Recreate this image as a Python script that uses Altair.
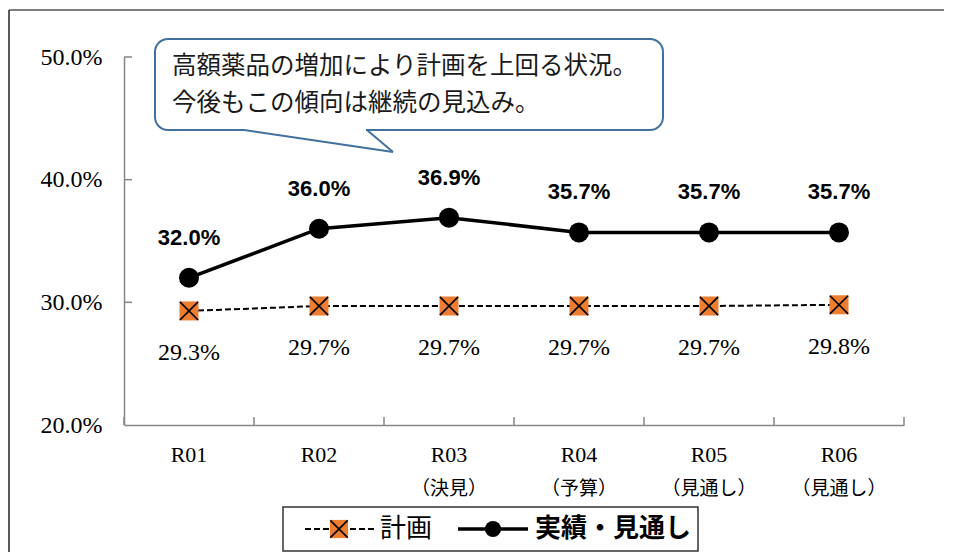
import altair as alt
import pandas as pd

# ---------------- data ----------------
categories = ["R01", "R02", "R03", "R04", "R05", "R06"]
sublabels = ["", "", "（決見）", "（予算）", "（見通し）", "（見通し）"]
plan = [29.3, 29.7, 29.7, 29.7, 29.7, 29.8]
actual = [32.0, 36.0, 36.9, 35.7, 35.7, 35.7]
y_ticks = [20, 30, 40, 50]
callout_lines = ["高額薬品の増加により計画を上回る状況。", "今後もこの傾向は継続の見込み。"]
legend_labels = ["計画", "実績・見通し"]

W, H = 780, 368
ORANGE = "#ED7D31"
AXIS_GRAY = "#868686"
CALLOUT_BLUE = "#41719C"
SERIF = "Liberation Serif"
SANS = "Liberation Sans"
CJK = "Noto Sans CJK JP"
X_PATH = "M-1,-1L1,1M1,-1L-1,1"

df = pd.DataFrame({
    "pos": [i + 0.5 for i in range(len(categories))],
    "cat": categories,
    "sub": sublabels,
    "plan": plan,
    "actual": actual,
})
df["plan_lbl"] = [f"{v:.1f}%" for v in plan]
df["actual_lbl"] = [f"{v:.1f}%" for v in actual]

bounds = pd.DataFrame({"pos": list(range(len(categories) + 1))})
yt = pd.DataFrame({"val": y_ticks[1:]})
one = alt.Data(values=[{"a": 1}])

xscale = alt.Scale(domain=[0, len(categories)], nice=False, zero=False)
yscale = alt.Scale(domain=[20, 50], nice=False, zero=False)
xaxis = alt.Axis(labels=False, ticks=False, grid=False, title=None,
                 domainColor=AXIS_GRAY, domainWidth=1.5)
yaxis = alt.Axis(values=y_ticks, labelExpr="format(datum.value, '.1f') + '%'",
                 ticks=False, grid=False, title=None, labelFont=SERIF,
                 labelFontSize=24, labelColor="black", labelPadding=22,
                 domainColor=AXIS_GRAY, domainWidth=1.5)


def X(field="pos"):
    return alt.X(f"{field}:Q", scale=xscale, axis=xaxis)


def Y(field):
    return alt.Y(f"{field}:Q", scale=yscale, axis=yaxis)


layers = []

# outer frame (top and left edges visible in the reference)
layers.append(alt.Chart(one).mark_rule(color="#7f7f7f", strokeWidth=2).encode(
    x=alt.value(-115), x2=alt.value(W + 40), y=alt.value(-47), y2=alt.value(-47)))
layers.append(alt.Chart(one).mark_rule(color="#222222", strokeWidth=1.5).encode(
    x=alt.value(-115), x2=alt.value(-115), y=alt.value(-47), y2=alt.value(H + 140)))

# inward tick marks
layers.append(alt.Chart(bounds).mark_rule(color=AXIS_GRAY, strokeWidth=1.5).encode(
    x=X(), y=alt.value(H), y2=alt.value(H - 8)))
layers.append(alt.Chart(yt).mark_rule(color=AXIS_GRAY, strokeWidth=1.5).encode(
    y=Y("val"), x=alt.value(0), x2=alt.value(8)))

base = alt.Chart(df)

# plan series
layers.append(base.mark_line(color="black", strokeWidth=2, strokeDash=[6, 3]).encode(
    x=X(), y=Y("plan")))
layers.append(base.mark_point(shape="square", filled=True, fill=ORANGE, opacity=1,
                              size=361, strokeWidth=0).encode(x=X(), y=Y("plan")))
layers.append(base.mark_point(shape=X_PATH, filled=False, stroke="black", opacity=1,
                              strokeWidth=1.6, size=330).encode(x=X(), y=Y("plan")))

# actual series
layers.append(base.mark_line(color="black", strokeWidth=3.5).encode(
    x=X(), y=Y("actual")))
layers.append(base.mark_point(shape="circle", filled=True, fill="black", opacity=1,
                              size=400, strokeWidth=0).encode(x=X(), y=Y("actual")))

# data labels
layers.append(base.mark_text(font=SANS, fontSize=22, fontWeight="bold", color="black",
                             baseline="middle", dy=-40).encode(
    x=X(), y=Y("actual"), text="actual_lbl:N"))
layers.append(base.mark_text(font=SERIF, fontSize=24, color="black",
                             baseline="middle", dy=42).encode(
    x=X(), y=Y("plan"), text="plan_lbl:N"))

# category labels
layers.append(base.mark_text(font=SERIF, fontSize=22, color="black",
                             baseline="middle").encode(
    x=X(), y=alt.value(398), text="cat:N"))
layers.append(base.mark_text(font=CJK, fontSize=19, color="black",
                             baseline="middle").encode(
    x=X(), y=alt.value(432), text="sub:N"))

# callout
layers.append(alt.Chart(one).mark_rect(fill="white", stroke=CALLOUT_BLUE, strokeWidth=2,
                                       cornerRadius=13).encode(
    x=alt.value(31), x2=alt.value(539), y=alt.value(-18), y2=alt.value(73)))
layers.append(alt.Chart(one).mark_rule(color="white", strokeWidth=4).encode(
    x=alt.value(121), x2=alt.value(242), y=alt.value(73), y2=alt.value(73)))
layers.append(alt.Chart(one).mark_rule(color=CALLOUT_BLUE, strokeWidth=2).encode(
    x=alt.value(120), y=alt.value(73), x2=alt.value(269), y2=alt.value(95)))
layers.append(alt.Chart(one).mark_rule(color=CALLOUT_BLUE, strokeWidth=2).encode(
    x=alt.value(243), y=alt.value(73), x2=alt.value(269), y2=alt.value(95)))
for i, line in enumerate(callout_lines):
    layers.append(alt.Chart(one).mark_text(text=line, font=CJK, fontSize=24.5, color="#1a1a1a",
                                           align="left", baseline="middle").encode(
        x=alt.value(48), y=alt.value(10 + 37 * i)))

# legend
layers.append(alt.Chart(one).mark_rect(fill="white", stroke="#333333", strokeWidth=1.5).encode(
    x=alt.value(159), x2=alt.value(574), y=alt.value(450), y2=alt.value(494)))
layers.append(alt.Chart(one).mark_rule(color="black", strokeWidth=2, strokeDash=[6, 3]).encode(
    x=alt.value(181), x2=alt.value(251), y=alt.value(472), y2=alt.value(472)))
layers.append(alt.Chart(one).mark_point(shape="square", filled=True, fill=ORANGE, opacity=1,
                                        size=330, strokeWidth=0).encode(
    x=alt.value(215), y=alt.value(472)))
layers.append(alt.Chart(one).mark_point(shape=X_PATH, filled=False, stroke="black", opacity=1,
                                        strokeWidth=1.6, size=300).encode(
    x=alt.value(215), y=alt.value(472)))
layers.append(alt.Chart(one).mark_text(text=legend_labels[0], font=CJK, fontSize=26,
                                       color="black", align="left", baseline="middle").encode(
    x=alt.value(256), y=alt.value(472)))
layers.append(alt.Chart(one).mark_rule(color="black", strokeWidth=3.5).encode(
    x=alt.value(334), x2=alt.value(404), y=alt.value(472), y2=alt.value(472)))
layers.append(alt.Chart(one).mark_point(shape="circle", filled=True, fill="black", opacity=1,
                                        size=260, strokeWidth=0).encode(
    x=alt.value(369), y=alt.value(472)))
layers.append(alt.Chart(one).mark_text(text=legend_labels[1], font=CJK, fontSize=26,
                                       fontWeight="bold", color="black", align="left",
                                       baseline="middle").encode(
    x=alt.value(411), y=alt.value(472)))

chart = alt.layer(*layers).properties(
    width=W, height=H,
    autosize=alt.AutoSizeParams(type="none"),
    padding={"left": 116, "top": 49, "right": 40, "bottom": 127},
).configure_view(stroke=None)

chart.save("out.html", embed_options={"renderer": "svg", "actions": False})
